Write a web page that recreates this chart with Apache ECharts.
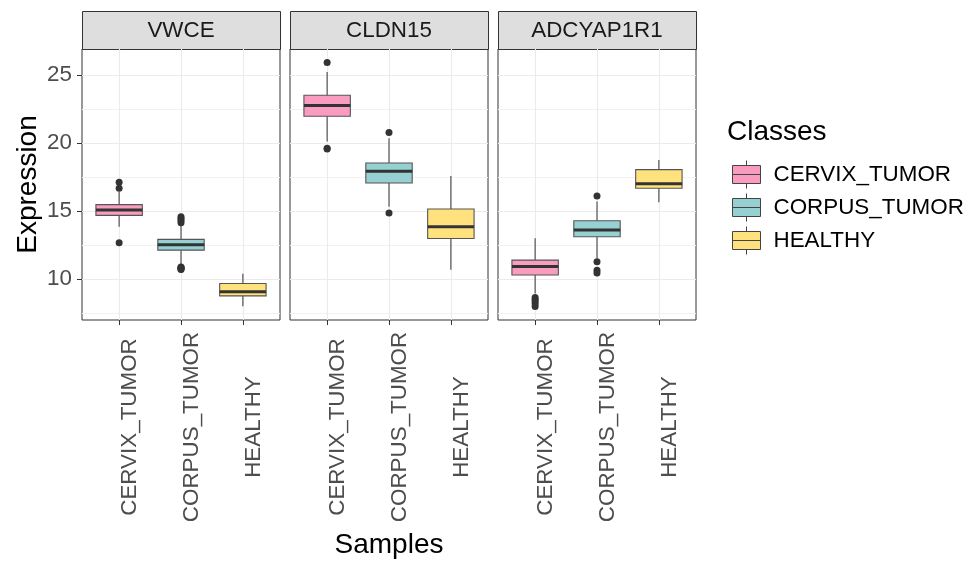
<!DOCTYPE html>
<html>
<head>
<meta charset="utf-8">
<script src="https://cdn.jsdelivr.net/npm/echarts@6/dist/echarts.min.js"></script>
<style>html,body{margin:0;padding:0;background:#fff}#c{width:979px;height:563px}</style>
</head>
<body>
<div id="c"></div>
<script>
// ---- data ----
const genes = ['VWCE', 'CLDN15', 'ADCYAP1R1'];
const classes = ['CERVIX_TUMOR', 'CORPUS_TUMOR', 'HEALTHY'];
// [lower whisker, Q1, median, Q3, upper whisker] per class
const vwceStats = [
  [13.85, 14.68, 15.07, 15.47, 16.42],
  [11.1, 12.13, 12.52, 12.92, 13.95],
  [8.01, 8.77, 9.07, 9.68, 10.4]
];
const cldn15Stats = [
  [20.1, 21.96, 22.75, 23.5, 25.22],
  [15.32, 17.06, 17.92, 18.53, 20.34],
  [10.69, 12.99, 13.85, 15.15, 17.57]
];
const adcyap1r1Stats = [
  [8.95, 10.3, 10.93, 11.4, 13.0],
  [11.52, 13.11, 13.6, 14.29, 15.7],
  [15.64, 16.67, 17.0, 18.04, 18.75]
];
// outliers per class
const vwceOutliers = [
  [17.11, 16.67, 12.67],
  [14.58, 14.45, 14.3, 14.15, 10.9, 10.85, 10.8, 10.75, 10.7],
  []
];
const cldn15Outliers = [
  [25.9, 19.62, 19.55],
  [20.76, 14.85],
  []
];
const adcyap1r1Outliers = [
  [8.65, 8.5, 8.35, 8.2, 8.0],
  [16.1, 11.27, 10.66, 10.45],
  []
];
const yTicks = [10, 15, 20, 25];
const yMinorTicks = [7.5, 12.5, 17.5, 22.5];
const yMin = 7.0, yMax = 26.9;

// ---- styling / layout ----
const classColors = ['#F99CC0', '#96D0D3', '#FFE27D'];
const FONT = 'Liberation Sans, Arial, sans-serif';
const allStats = [vwceStats, cldn15Stats, adcyap1r1Stats];
const allOutliers = [vwceOutliers, cldn15Outliers, adcyap1r1Outliers];
const panelLeft = [82, 290, 498];
const panelW = 198, panelTop = 49, panelH = 271;

const grids = [], xAxes = [], yAxes = [], series = [], graphics = [];
genes.forEach((g, i) => {
  grids.push({left: panelLeft[i], top: panelTop, width: panelW, height: panelH,
    show: true, backgroundColor: '#fff', borderColor: '#333', borderWidth: 1,
    containLabel: false, outerBoundsMode: 'none'});
  xAxes.push({type: 'value', gridIndex: i, min: 0.4, max: 3.6,
    axisLine: {show: false},
    axisTick: {show: true, length: 5, customValues: [1, 2, 3], lineStyle: {color: '#333', width: 1}},
    axisLabel: {show: true, customValues: [1, 2, 3], rotate: 90, align: 'center', verticalAlign: 'top',
      margin: 107, fontSize: 22.4, color: '#4D4D4D', fontFamily: FONT,
      formatter: v => classes[Math.round(v) - 1]},
    splitLine: {show: true, lineStyle: {color: '#EBEBEB', width: 1.1}}
  });
  yAxes.push({type: 'value', gridIndex: i, min: yMin, max: yMax, position: 'left',
    axisLine: {show: false},
    axisTick: {show: i === 0, length: 5, customValues: yTicks, lineStyle: {color: '#333', width: 1}},
    axisLabel: {show: i === 0, customValues: yTicks, margin: 10, fontSize: 22.4, color: '#4D4D4D', fontFamily: FONT},
    splitLine: {show: true, lineStyle: {color: '#EBEBEB', width: 1.1}},
    name: i === 0 ? 'Expression' : '', nameLocation: 'middle', nameGap: 40,
    nameTextStyle: {fontSize: 28, color: '#000', fontFamily: FONT}
  });
  yAxes.push({type: 'value', gridIndex: i, min: yMin, max: yMax, position: 'right',
    axisLine: {show: false}, axisTick: {show: false, customValues: yMinorTicks},
    axisLabel: {show: false, customValues: yMinorTicks},
    splitLine: {show: true, lineStyle: {color: '#F2F2F2', width: 1}}
  });
  const stats = allStats[i];
  series.push({type: 'custom', xAxisIndex: i, yAxisIndex: 2 * i,
    data: stats.map((s, k) => [k + 1].concat(s)),
    encode: {x: 0, y: [1, 2, 3, 4, 5]},
    z: 3,
    renderItem: (params, api) => {
      const x = api.value(0), lo = api.value(1), q1 = api.value(2), med = api.value(3), q3 = api.value(4), hi = api.value(5);
      const half = 0.375;
      const tl = api.coord([x - half, q3]), br = api.coord([x + half, q1]);
      const top = api.coord([x, hi]), bot = api.coord([x, lo]);
      const ml = api.coord([x - half, med]), mr = api.coord([x + half, med]);
      const c = classColors[params.dataIndex];
      return {type: 'group', children: [
        {type: 'line', shape: {x1: top[0], y1: top[1], x2: top[0], y2: tl[1]}, style: {stroke: '#444', lineWidth: 1.1}},
        {type: 'line', shape: {x1: bot[0], y1: bot[1], x2: bot[0], y2: br[1]}, style: {stroke: '#444', lineWidth: 1.1}},
        {type: 'rect', shape: {x: tl[0], y: tl[1], width: br[0] - tl[0], height: br[1] - tl[1]}, style: {fill: c, stroke: '#555', lineWidth: 1.1}},
        {type: 'line', shape: {x1: ml[0], y1: ml[1], x2: mr[0], y2: mr[1]}, style: {stroke: '#333', lineWidth: 3}}
      ]};
    }
  });
  const pts = [];
  allOutliers[i].forEach((arr, k) => arr.forEach(v => pts.push([k + 1, v])));
  series.push({type: 'scatter', xAxisIndex: i, yAxisIndex: 2 * i, data: pts, symbolSize: 7,
    itemStyle: {color: '#333', opacity: 1}, z: 4, silent: true});
  // strip
  graphics.push({type: 'rect', left: panelLeft[i], top: 11, shape: {width: panelW, height: 38},
    style: {fill: '#DEDEDE', stroke: '#333', lineWidth: 1}});
  graphics.push({type: 'text', x: panelLeft[i] + panelW / 2, y: 31,
    style: {text: g, fontSize: 22.4, fill: '#1A1A1A', font: '22.4px ' + FONT, align: 'center', verticalAlign: 'middle'}});
});
graphics.push({type: 'text', x: 389, y: 545,
  style: {text: 'Samples', font: '28px ' + FONT, fill: '#000', align: 'center', verticalAlign: 'middle'}});
graphics.push({type: 'text', x: 727, y: 132,
  style: {text: 'Classes', font: '28px ' + FONT, fill: '#000', align: 'left', verticalAlign: 'middle'}});

classes.forEach((c, k) => {
  series.push({type: 'custom', name: c, xAxisIndex: 0, yAxisIndex: 0, data: [],
    itemStyle: {color: classColors[k]}, renderItem: () => null});
});

const chart = echarts.init(document.getElementById('c'), null, {renderer: 'canvas'});
chart.setOption({
  animation: false,
  grid: grids, xAxis: xAxes, yAxis: yAxes, series: series,
  graphic: graphics,
  legend: {orient: 'vertical', left: 727, top: 155, itemWidth: 28, itemHeight: 28, itemGap: 4,
    icon: 'path://M0,5H28V23H0ZM0,14H28M14,0V5M14,23V28',
    itemStyle: {borderColor: '#444', borderWidth: 1},
    textStyle: {fontSize: 22.4, color: '#000', fontFamily: FONT, padding: [0, 0, 0, 8]},
    data: classes, selectedMode: false}
});
</script>
</body>
</html>
